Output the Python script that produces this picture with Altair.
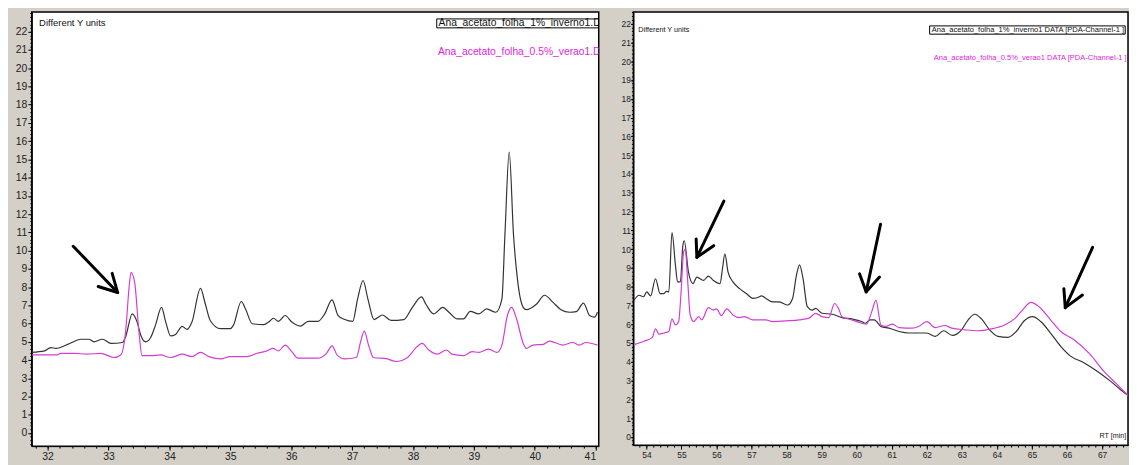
import altair as alt
import pandas as pd

# ---------------- left panel (RT 31.7 - 41) ----------------
L_BLACK_X = [31.74, 31.95, 32.05, 32.14, 32.33, 32.55, 32.68, 32.76, 32.9, 33.04, 33.23, 33.28, 33.39, 33.47,
             33.53, 33.61, 33.69, 33.77, 33.87, 33.94, 34.02, 34.1, 34.21, 34.29, 34.37, 34.51, 34.59, 34.67,
             34.84, 35.0, 35.05, 35.18, 35.25, 35.36, 35.55, 35.63, 35.71, 35.79, 35.9, 36.01, 36.15, 36.28,
             36.44, 36.55, 36.67, 36.77, 36.88, 37.01, 37.09, 37.18, 37.26, 37.36, 37.5, 37.64, 37.85, 37.99,
             38.14, 38.21, 38.34, 38.49, 38.59, 38.72, 38.83, 38.94, 39.08, 39.21, 39.36, 39.46, 39.51, 39.58,
             39.65, 39.72, 39.81, 39.86, 40.03, 40.16, 40.3, 40.43, 40.57, 40.68, 40.8, 40.9, 40.98, 41.03]
L_BLACK_Y = [4.42, 4.5, 4.68, 4.64, 4.86, 5.14, 5.14, 5.0, 5.14, 4.91, 4.96, 5.27, 6.53, 6.08,
             5.36, 5.0, 5.22, 5.9, 6.89, 6.08, 5.32, 5.4, 5.85, 5.68, 6.08, 7.93, 7.07, 6.17,
             5.72, 5.72, 5.9, 7.21, 6.8, 5.99, 5.94, 6.08, 6.29, 6.12, 6.44, 6.08, 5.86, 6.12,
             6.12, 6.53, 7.3, 6.44, 6.22, 6.12, 7.34, 8.36, 7.34, 6.22, 6.47, 6.17, 6.22, 6.89,
             7.46, 7.07, 6.53, 6.89, 6.62, 6.26, 6.26, 6.67, 6.53, 6.8, 6.62, 7.34, 10.9, 15.4,
             10.9, 8.3, 6.89, 6.76, 7.07, 7.55, 7.16, 6.76, 6.62, 6.65, 7.12, 6.44, 6.35, 6.62]

L_PINK_X = [31.74, 32.16, 32.22, 32.44, 32.65, 32.87, 33.09, 33.2, 33.28, 33.34, 33.37, 33.43, 33.5, 33.55,
            33.69, 33.85, 34.02, 34.21, 34.37, 34.51, 34.65, 34.84, 35.0, 35.27, 35.44, 35.6, 35.7, 35.79,
            35.9, 36.01, 36.11, 36.44, 36.58, 36.67, 36.76, 36.88, 37.07, 37.14, 37.2, 37.27, 37.35, 37.58,
            37.72, 37.91, 38.04, 38.15, 38.26, 38.4, 38.55, 38.64, 38.83, 38.97, 39.08, 39.24, 39.38, 39.46,
            39.55, 39.62, 39.7, 39.81, 39.86, 39.97, 40.14, 40.24, 40.46, 40.62, 40.73, 40.84, 41.03]
L_PINK_Y = [4.28, 4.28, 4.37, 4.37, 4.32, 4.37, 4.14, 4.28, 5.54, 8.06, 8.81, 8.24, 5.54, 4.24,
            4.24, 4.28, 4.14, 4.32, 4.19, 4.42, 4.19, 4.06, 4.19, 4.19, 4.37, 4.5, 4.64, 4.5,
            4.82, 4.46, 4.1, 4.1, 4.37, 4.78, 4.24, 4.06, 4.14, 5.0, 5.58, 4.82, 4.14, 4.06,
            3.92, 4.14, 4.64, 4.91, 4.55, 4.32, 4.55, 4.32, 4.24, 4.46, 4.42, 4.6, 4.42, 4.82,
            6.44, 6.89, 6.26, 4.91, 4.64, 4.82, 4.86, 5.04, 4.82, 4.96, 4.82, 4.96, 4.82]

# ---------------- right panel (RT 53.6 - 67.7) ----------------
R_BLACK_X = [53.65, 53.79, 53.92, 54.01, 54.12, 54.26, 54.39, 54.5, 54.57, 54.64, 54.73, 54.83, 54.89, 54.97,
             55.04, 55.08, 55.2, 55.33, 55.44, 55.63, 55.77, 55.91, 56.1, 56.17, 56.24, 56.33, 56.47, 56.66,
             56.85, 57.04, 57.23, 57.28, 57.41, 57.6, 57.79, 58.03, 58.17, 58.28, 58.37, 58.47, 58.59, 58.73,
             58.83, 59.01, 59.3, 59.58, 59.86, 60.14, 60.24, 60.38, 60.5, 60.69, 60.92, 61.21, 61.49, 61.77,
             62.0, 62.24, 62.48, 62.73, 62.99, 63.18, 63.37, 63.56, 63.79, 64.03, 64.31, 64.55, 64.78, 65.02,
             65.25, 65.53, 65.82, 66.1, 66.48, 66.85, 67.23, 67.51, 67.75]
R_BLACK_Y = [7.28, 7.54, 7.46, 7.72, 7.51, 8.42, 7.63, 7.63, 7.75, 7.72, 10.88, 9.12, 8.25, 8.25,
             10.18, 10.44, 8.77, 8.16, 8.51, 8.33, 8.56, 8.33, 8.16, 8.95, 9.74, 8.77, 8.25, 7.89,
             7.63, 7.37, 7.46, 7.51, 7.37, 7.19, 7.19, 7.02, 7.37, 8.6, 9.16, 8.42, 6.93, 6.75,
             6.84, 6.58, 6.53, 6.35, 6.28, 6.14, 6.05, 6.23, 6.23, 5.88, 5.79, 5.61, 5.53, 5.53,
             5.53, 5.35, 5.65, 5.4, 5.7, 6.23, 6.53, 6.28, 5.7, 5.35, 5.3, 5.61, 6.18, 6.4,
             6.14, 5.53, 4.82, 4.3, 3.95, 3.51, 2.98, 2.54, 2.19]

R_PINK_X = [53.65, 53.93, 54.17, 54.26, 54.36, 54.5, 54.64, 54.73, 54.83, 54.92, 54.99, 55.06, 55.11, 55.18,
            55.25, 55.35, 55.49, 55.58, 55.77, 55.91, 56.0, 56.14, 56.29, 56.47, 56.66, 56.8, 57.04, 57.41,
            57.6, 57.98, 58.36, 58.64, 58.83, 59.01, 59.2, 59.37, 59.48, 59.58, 59.86, 60.14, 60.28, 60.43,
            60.55, 60.69, 60.83, 61.02, 61.21, 61.58, 61.77, 62.0, 62.24, 62.52, 62.71, 63.09, 63.46, 63.84,
            64.22, 64.5, 64.73, 64.97, 65.2, 65.53, 65.82, 66.19, 66.66, 67.04, 67.42, 67.75]
R_PINK_Y = [4.91, 5.09, 5.3, 5.75, 5.47, 5.53, 5.61, 6.28, 5.96, 6.14, 7.72, 9.82, 10.0, 8.25,
            6.49, 6.14, 6.4, 6.23, 6.88, 6.75, 6.81, 6.46, 6.81, 6.49, 6.35, 6.4, 6.23, 6.23,
            6.14, 6.18, 6.23, 6.32, 6.58, 6.4, 6.35, 7.1, 6.84, 6.4, 6.23, 6.05, 6.0, 6.67,
            7.28, 5.96, 5.88, 6.0, 5.82, 5.79, 5.88, 6.14, 5.82, 5.93, 5.79, 5.7, 5.65, 5.75,
            5.96, 6.28, 6.75, 7.16, 6.93, 6.23, 5.61, 5.18, 4.39, 3.51, 2.81, 2.19]

# arrows: (start, tip, wing1, wing2) in data units
ARROWS_LEFT = [[(32.42, 10.24), (33.15, 7.70), (33.06, 8.75), (32.83, 8.03)]]
ARROWS_RIGHT = [[(56.21, 12.55), (55.44, 9.56), (55.42, 10.53), (55.92, 10.18)],
                [(60.68, 11.32), (60.27, 7.72), (60.08, 8.68), (60.65, 8.51)],
                [(66.73, 10.09), (65.95, 6.88), (65.91, 7.89), (66.44, 7.55)]]

SERIES = ["Ana_acetato_folha_1%_inverno1", "Ana_acetato_folha_0.5%_verao1"]
LEFT_LABELS = ["Ana_acetato_folha_1%_inverno1.D", "Ana_acetato_folha_0.5%_verao1.D"]
RIGHT_LABELS = ["Ana_acetato_folha_1%_inverno1 DATA [PDA-Channel-1 ]",
                "Ana_acetato_folha_0.5%_verao1 DATA [PDA-Channel-1 ]"]
CORNER_TEXT = "Different Y units"
X_UNIT_TEXT = "RT [min]"

GREY = "#d4d0c8"
LINE_BLACK = "#333333"
LINE_PINK = "#d23ed2"
TEXT_PINK = "#e01ee0"
FONT = "Liberation Sans"


def int_values(lo, hi):
    return list(range(lo, hi + 1))


def minor_values(lo, hi):
    n = int(round((hi - lo) / 0.2))
    return [round(lo + 0.2 * i, 1) for i in range(n + 1)]


def major_axis(orient, values, size, extent, pad, tick):
    return alt.Axis(orient=orient, values=values, grid=False, title=None, format="d",
                    labelOverlap=False, labelFlush=4, labelBound=False,
                    tickSize=tick, tickColor="#000", domainColor="#000", labelColor="#222",
                    labelFont=FONT, labelFontSize=size, labelPadding=pad,
                    minExtent=extent, maxExtent=extent, tickWidth=1, domainWidth=1)


def minor_axis(orient, values, extent):
    return alt.Axis(orient=orient, values=values, grid=False, title=None, labels=False,
                    domain=False, tickSize=2, tickColor="#000", tickWidth=1,
                    minExtent=extent, maxExtent=extent)


def lines_df(bx, by, px, py):
    rows = [{"rt": x, "v": y, "series": SERIES[0]} for x, y in zip(bx, by)]
    rows += [{"rt": x, "v": y, "series": SERIES[1]} for x, y in zip(px, py)]
    return pd.DataFrame(rows)


def arrows_df(arrows):
    rows = []
    for k, (s, t, w1, w2) in enumerate(arrows):
        for o, p in enumerate([s, t]):
            rows.append({"seg": f"{k}s", "ord": o, "rt": p[0], "v": p[1]})
        for o, p in enumerate([w1, t, w2]):
            rows.append({"seg": f"{k}h", "ord": o, "rt": p[0], "v": p[1]})
    return pd.DataFrame(rows)


def panel(df, adf, xdom, ydom, axes, width, height, texts, box):
    xs = alt.Scale(domain=xdom, nice=False, zero=False)
    ys = alt.Scale(domain=ydom, nice=False, zero=False)
    xmaj, ymaj, xmin, ymin = axes
    lines = alt.Chart(df).mark_line(strokeWidth=1.2, clip=True, interpolate="monotone").encode(
        x=alt.X("rt:Q", scale=xs, axis=xmaj),
        y=alt.Y("v:Q", scale=ys, axis=ymaj),
        color=alt.Color("series:N", scale=alt.Scale(domain=SERIES, range=[LINE_BLACK, LINE_PINK]), legend=None),
    )
    minor = alt.Chart(df).mark_point(opacity=0, clip=True).encode(
        x=alt.X("rt:Q", scale=xs, axis=xmin),
        y=alt.Y("v:Q", scale=ys, axis=ymin),
    )
    arrows = alt.Chart(adf).mark_line(color="black", strokeWidth=3, strokeCap="round",
                                       strokeJoin="round", clip=True).encode(
        x=alt.X("rt:Q", scale=xs, axis=None),
        y=alt.Y("v:Q", scale=ys, axis=None),
        detail="seg:N", order="ord:Q")
    bdf = pd.DataFrame([box])
    boxl = alt.Chart(bdf).mark_rect(fillOpacity=0, stroke="black", strokeWidth=1, clip=True).encode(
        x=alt.X("x:Q", scale=xs, axis=None), x2="x2:Q",
        y=alt.Y("y:Q", scale=ys, axis=None), y2="y2:Q")
    layers = [lines, minor, arrows, boxl]
    for t in texts:
        tdf = pd.DataFrame([{"rt": t["x"], "v": t["y"], "label": t["text"]}])
        layers.append(alt.Chart(tdf).mark_text(align=t.get("align", "left"), baseline="middle",
                                               font=FONT, fontSize=t["size"], color=t["color"],
                                               clip=True).encode(
            x=alt.X("rt:Q", scale=xs, axis=None),
            y=alt.Y("v:Q", scale=ys, axis=None),
            text="label:N"))
    return alt.layer(*layers).resolve_axis(x="independent", y="independent").properties(
        width=width, height=height)


L_XDOM = [31.74, 41.05]
L_YDOM = [-0.72, 23.08]
R_XDOM = [53.63, 67.74]
R_YDOM = [-0.44, 22.62]

left = panel(
    lines_df(L_BLACK_X, L_BLACK_Y, L_PINK_X, L_PINK_Y), arrows_df(ARROWS_LEFT),
    L_XDOM, L_YDOM,
    (major_axis("bottom", int_values(32, 41), 10.5, 15, 1, 4),
     major_axis("left", int_values(0, 22), 10.5, 23, 1, 4),
     minor_axis("bottom", minor_values(31.8, 41.0), 15),
     minor_axis("left", minor_values(-0.6, 23.0), 23)),
    572, 438,
    [{"x": 31.86, "y": 22.48, "text": CORNER_TEXT, "size": 9.5, "color": "#111"},
     {"x": 38.42, "y": 22.45, "text": LEFT_LABELS[0], "size": 10.4, "color": "#111"},
     {"x": 38.41, "y": 20.9, "text": LEFT_LABELS[1], "size": 10.4, "color": TEXT_PINK}],
    {"x": 38.39, "x2": 41.05, "y": 22.70, "y2": 22.21},
)

right = panel(
    lines_df(R_BLACK_X, R_BLACK_Y, R_PINK_X, R_PINK_Y), arrows_df(ARROWS_RIGHT),
    R_XDOM, R_YDOM,
    (major_axis("bottom", int_values(54, 67), 8.5, 13, 1, 4),
     major_axis("left", int_values(0, 22), 8.5, 22, 0, 3),
     minor_axis("bottom", minor_values(53.8, 67.6), 13),
     minor_axis("left", minor_values(-0.4, 22.6), 22)),
    499, 437,
    [{"x": 53.77, "y": 21.67, "text": CORNER_TEXT, "size": 7.3, "color": "#111"},
     {"x": 62.14, "y": 21.66, "text": RIGHT_LABELS[0], "size": 7.6, "color": "#111"},
     {"x": 62.2, "y": 20.18, "text": RIGHT_LABELS[1], "size": 7.6, "color": TEXT_PINK},
     {"x": 67.69, "y": 0.05, "text": X_UNIT_TEXT, "size": 7.2, "color": "#111", "align": "right"}],
    {"x": 62.08, "x2": 67.66, "y": 21.88, "y2": 21.44},
)

chart = alt.hconcat(left, right, spacing=11).properties(padding=0).configure(
    background=GREY
).configure_view(stroke="#000", strokeWidth=1.5, fill="white")

chart.save("out.html", embed_options={"renderer": "svg", "actions": False})
